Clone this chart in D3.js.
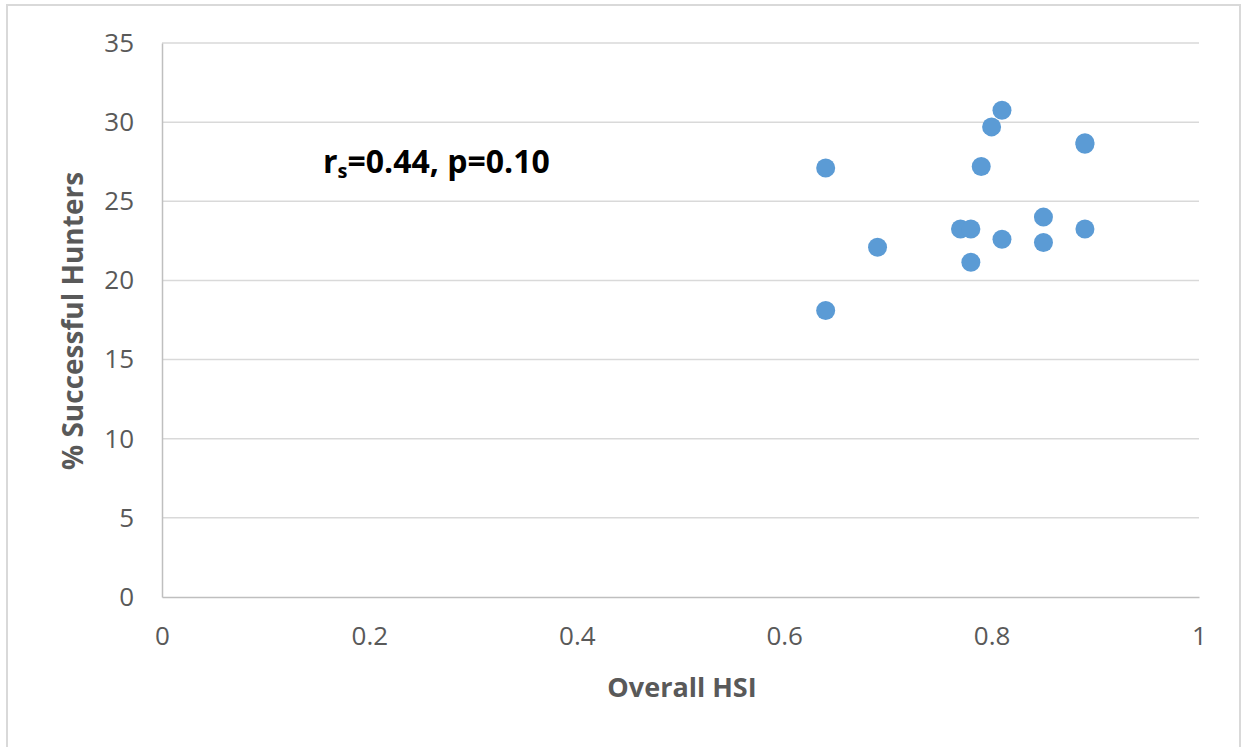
<!DOCTYPE html>
<html><head><meta charset="utf-8">
<script src="https://cdn.jsdelivr.net/npm/d3@7"></script>
<style>body{margin:0;background:#fff}svg{display:block}</style>
</head><body>
<svg id="c" width="1243" height="747"></svg>
<script>
const hsi = [0.64, 0.64, 0.69, 0.77, 0.78, 0.78, 0.79, 0.80, 0.81, 0.81, 0.85, 0.85, 0.89, 0.89, 0.89];
const successPct = [27.1, 18.1, 22.1, 23.25, 23.25, 21.15, 27.2, 29.7, 30.75, 22.6, 24.0, 22.4, 28.6, 28.7, 23.25];
const xTicks = [0, 0.2, 0.4, 0.6, 0.8, 1];
const yTicks = [0, 5, 10, 15, 20, 25, 30, 35];
const xTitle = "Overall HSI";
const yTitle = "% Successful Hunters";

const svg = d3.select("#c");
const font = "Open Sans, Liberation Sans, sans-serif";
// frame
svg.append("rect").attr("x",7).attr("y",5).attr("width",1233).attr("height",760)
  .attr("fill","none").attr("stroke","#d9d9d9").attr("stroke-width",2);

const x = d3.scaleLinear().domain([0,1]).range([162,1199]);
const y = d3.scaleLinear().domain([0,35]).range([597,43]);

// gridlines
svg.append("g").selectAll("line").data(yTicks.filter(d=>d>0)).join("line")
  .attr("x1",x(0)).attr("x2",x(1)).attr("y1",d=>y(d)).attr("y2",d=>y(d))
  .attr("stroke","#d9d9d9").attr("stroke-width",1.5);

// axes
const xa = svg.append("g").attr("transform",`translate(0,${y(0)})`)
  .call(d3.axisBottom(x).tickValues(xTicks).tickSize(0).tickPadding(30).tickFormat(d=>String(d)));
const ya = svg.append("g").attr("transform",`translate(${x(0)},0)`)
  .call(d3.axisLeft(y).tickValues(yTicks).tickSize(0).tickPadding(28).tickFormat(d=>String(d)));
[xa,ya].forEach(a=>{
  a.select(".domain").attr("stroke","#bfbfbf").attr("stroke-width",1.5);
  a.selectAll("text").attr("fill","#595959").attr("font-family",font).attr("font-size",26);
});

// points
svg.append("g").selectAll("circle").data(hsi.map((h,i)=>[h,successPct[i]])).join("circle")
  .attr("cx",d=>x(d[0])).attr("cy",d=>y(d[1])).attr("r",9.5).attr("fill","#5b9bd5");

// titles
svg.append("text").attr("x",682).attr("y",697).attr("text-anchor","middle")
  .attr("font-family",font).attr("font-weight","bold").attr("font-size",27).attr("fill","#595959").text(xTitle);
svg.append("text").attr("transform","translate(83,321) rotate(-90)").attr("text-anchor","middle")
  .attr("font-family",font).attr("font-weight","bold").attr("font-size",28).attr("fill","#595959").text(yTitle);

// annotation
const ann = svg.append("text").attr("x",323).attr("y",173).attr("font-family",font)
  .attr("font-weight","bold").attr("font-size",32).attr("fill","#000");
ann.append("tspan").text("r");
ann.append("tspan").attr("font-size",20).attr("dy",5).text("s");
ann.append("tspan").attr("dy",-5).text("=0.44, p=0.10");
</script>
</body></html>
